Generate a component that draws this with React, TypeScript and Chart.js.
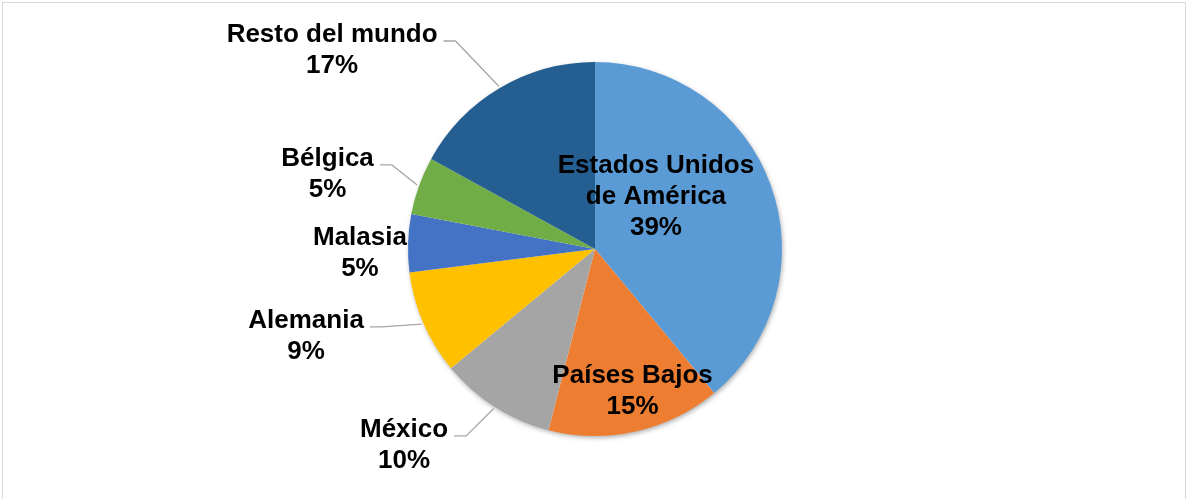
import React, { useEffect, useRef } from "react";
import { Chart, registerables } from "chart.js";

Chart.register(...registerables);

const categories = [
  "Estados Unidos\nde América",
  "Países Bajos",
  "México",
  "Alemania",
  "Malasia",
  "Bélgica",
  "Resto del mundo",
];
const shares = [39, 15, 10, 9, 5, 5, 17];
const colors = ["#5B9BD5", "#ED7D31", "#A5A5A5", "#FFC000", "#4472C4", "#70AD47", "#255E91"];

// label placement: offset of block centre (x) and first baseline (y), in units of radius
const labelOffsets: [number, number][] = [
  [0.326, -0.406],
  [0.201, 0.717],
  [-1.021, 1.005],
  [-1.545, 0.422],
  [-1.257, -0.021],
  [-1.43, -0.444],
  [-1.406, -1.107],
];
const hasLeader = [false, false, true, true, false, true, true];

const FONT = "bold 26px 'Liberation Sans', Arial, sans-serif";
const LINE_H = 31;

const piePlugin = {
  id: "pieDecor",
  beforeDraw(chart: any) {
    const ctx = chart.ctx;
    ctx.save();
    ctx.strokeStyle = "#D9D9D9";
    ctx.lineWidth = 1;
    ctx.strokeRect(2.5, 2.5, chart.width - 5, chart.height + 50);
    ctx.restore();
  },
  beforeDatasetsDraw(chart: any) {
    const arc = chart.getDatasetMeta(0).data[0];
    if (!arc) return;
    const { x, y, outerRadius } = arc.getProps(["x", "y", "outerRadius"], true);
    const ctx = chart.ctx;
    ctx.save();
    ctx.shadowColor = "rgba(0,0,0,0.35)";
    ctx.shadowBlur = 5;
    ctx.shadowOffsetX = 1;
    ctx.shadowOffsetY = 2;
    ctx.fillStyle = "#ffffff";
    ctx.beginPath();
    ctx.arc(x, y, outerRadius - 0.5, 0, Math.PI * 2);
    ctx.fill();
    ctx.restore();
  },
  afterDatasetsDraw(chart: any) {
    const ctx = chart.ctx;
    const meta = chart.getDatasetMeta(0);
    ctx.save();
    ctx.font = FONT;
    ctx.fillStyle = "#000000";
    ctx.textAlign = "center";
    ctx.textBaseline = "alphabetic";
    meta.data.forEach((el: any, i: number) => {
      const { x, y, outerRadius, startAngle, endAngle } = el.getProps(
        ["x", "y", "outerRadius", "startAngle", "endAngle"],
        true
      );
      const R = outerRadius;
      const lines = [...categories[i].split("\n"), shares[i] + "%"];
      const cx = x + labelOffsets[i][0] * R;
      const by = y + labelOffsets[i][1] * R;
      if (hasLeader[i]) {
        const w = ctx.measureText(lines[0]).width;
        const sx = cx + w / 2 + 6;
        const sy = by - 1;
        const mid = (startAngle + endAngle) / 2;
        const ex = x + Math.cos(mid) * (R + 2);
        const ey = y + Math.sin(mid) * (R + 2);
        ctx.save();
        ctx.strokeStyle = "#A6A6A6";
        ctx.lineWidth = 1.3;
        ctx.beginPath();
        ctx.moveTo(sx, sy);
        ctx.lineTo(sx + 12, sy);
        ctx.lineTo(ex, ey);
        ctx.stroke();
        ctx.restore();
      }
      lines.forEach((t, k) => {
        ctx.fillText(t, cx, by + k * LINE_H);
      });
    });
    ctx.restore();
  },
};

export default function App() {
  const ref = useRef<HTMLCanvasElement>(null);
  useEffect(() => {
    if (!ref.current) return;
    const chart = new Chart(ref.current, {
      type: "pie",
      data: {
        labels: categories,
        datasets: [
          {
            data: shares,
            backgroundColor: colors,
            borderWidth: 0,
            hoverOffset: 0,
          },
        ],
      },
      options: {
        animation: false,
        responsive: false,
        devicePixelRatio: 1,
        layout: { padding: { top: 62, bottom: 63, left: 2, right: 0 } },
        plugins: { legend: { display: false }, tooltip: { enabled: false } },
        events: [],
      },
      plugins: [piePlugin],
    });
    return () => chart.destroy();
  }, []);
  return (
    <div style={{ position: "absolute", left: 0, top: 0, width: 1188, height: 499, background: "#fff" }}>
      <canvas ref={ref} width={1188} height={499} style={{ display: "block" }} />
    </div>
  );
}
